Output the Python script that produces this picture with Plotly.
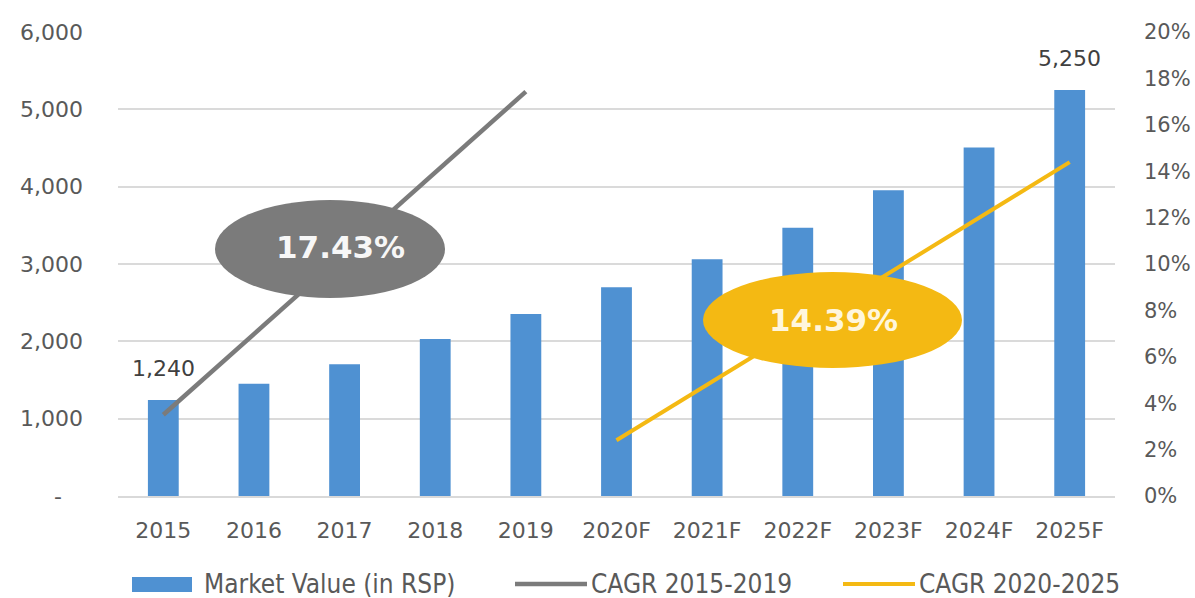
import plotly.graph_objects as go

# Market value series (in RSP) with historical and forecast years
years = ["2015", "2016", "2017", "2018", "2019", "2020F",
         "2021F", "2022F", "2023F", "2024F", "2025F"]
market_value = [1240, 1450, 1705, 2030, 2355, 2700, 3060, 3470, 3955, 4505, 5250]

# CAGR trend lines (percent, right axis)
cagr_hist_years = ["2015", "2019"]
cagr_hist = [3.5, 17.43]
cagr_fcst_years = ["2020F", "2025F"]
cagr_fcst = [2.4, 14.39]

# Axis ticks
left_ticks = [0, 1000, 2000, 3000, 4000, 5000, 6000]
left_tick_text = ["-\u00a0\u00a0\u00a0", "1,000", "2,000", "3,000", "4,000", "5,000", "6,000"]
right_ticks = [0, 2, 4, 6, 8, 10, 12, 14, 16, 18, 20]
right_tick_text = [f"{v}%" for v in right_ticks]

# Labelled bars and CAGR callouts
labelled_bars = [0, len(years) - 1]
cagr_callouts = ["17.43%", "14.39%"]
legend_names = ["Market Value (in RSP)", "CAGR 2015-2019", "CAGR 2020-2025"]

BAR = "#4f91d2"
GREY = "#7b7b7b"
GOLD = "#f4b913"
TICK = "#595959"

W, H = 1195, 598
ML, MR, MT, MB = 118, 80, 32, 102
PW, PH = W - ML - MR, H - MT - MB


def px_x(x):
    return (x - ML) / PW


def px_y(y):
    return (H - MB - y) / PH


# category positions along the x axis
pos = {name: i for i, name in enumerate(years)}
bar_x = [pos[y] for y in years]

fig = go.Figure()

fig.add_trace(go.Bar(
    x=bar_x, y=market_value, name=legend_names[0],
    width=0.34,
    marker=dict(color=BAR, line=dict(width=0)),
    showlegend=False,
))

fig.add_trace(go.Scatter(
    x=[pos[y] for y in cagr_hist_years], y=cagr_hist, yaxis="y2", mode="lines",
    name=legend_names[1], line=dict(color=GREY, width=4.5),
    showlegend=False,
))

fig.add_trace(go.Scatter(
    x=[pos[y] for y in cagr_fcst_years], y=cagr_fcst, yaxis="y2", mode="lines",
    name=legend_names[2], line=dict(color=GOLD, width=4),
    showlegend=False,
))

shapes = []
annotations = []

# value labels on first and last bar
for i in labelled_bars:
    annotations.append(dict(
        x=bar_x[i], y=market_value[i], xref="x", yref="y",
        text=f"{market_value[i]:,}", showarrow=False, yshift=32,
        font=dict(family="DejaVu Sans", size=22, color="#404040"),
    ))

# CAGR callout ellipses
callouts = [
    dict(box=(215, 200, 445, 298), text_xy=(340, 247), fill=GREY, color="#f7f7f7"),
    dict(box=(703, 272, 962, 368), text_xy=(833, 320), fill=GOLD, color="#fff6dc"),
]
for c, label in zip(callouts, cagr_callouts):
    x0, y0, x1, y1 = c["box"]
    shapes.append(dict(
        type="circle", xref="paper", yref="paper",
        x0=px_x(x0), x1=px_x(x1), y0=px_y(y1), y1=px_y(y0),
        fillcolor=c["fill"], line=dict(width=0), layer="above",
    ))
    tx, ty = c["text_xy"]
    annotations.append(dict(
        x=px_x(tx), y=px_y(ty), xref="paper", yref="paper",
        text=f"<b>{label}</b>", showarrow=False,
        xanchor="center", yanchor="middle",
        font=dict(family="DejaVu Sans", size=31, color=c["color"]),
    ))

# legend row
LEG_Y = 584
legend_font = dict(family="DejaVu Sans Condensed, Liberation Sans Narrow, DejaVu Sans",
                   size=26, color=TICK)
shapes.append(dict(
    type="rect", xref="paper", yref="paper",
    x0=px_x(132), x1=px_x(192), y0=px_y(592), y1=px_y(577),
    fillcolor=BAR, line=dict(width=0),
))
for (lx0, lx1), col, w in [((515, 587), GREY, 4.5), ((843, 915), GOLD, 4)]:
    shapes.append(dict(
        type="line", xref="paper", yref="paper",
        x0=px_x(lx0), x1=px_x(lx1), y0=px_y(LEG_Y), y1=px_y(LEG_Y),
        line=dict(color=col, width=w),
    ))
for tx, name in zip([202, 589, 917], legend_names):
    annotations.append(dict(
        x=px_x(tx), y=px_y(LEG_Y), xref="paper", yref="paper",
        text=name, showarrow=False, xanchor="left", yanchor="middle",
        font=legend_font,
    ))

fig.update_layout(
    width=W, height=H,
    margin=dict(l=ML, r=MR, t=MT, b=MB, autoexpand=False),
    paper_bgcolor="white", plot_bgcolor="white",
    showlegend=False,
    shapes=shapes,
    annotations=annotations,
    xaxis=dict(
        range=[-0.5, len(years) - 0.5],
        tickvals=bar_x, ticktext=years,
        showgrid=False, zeroline=False,
        showline=True, linecolor="#d9d9d9", linewidth=2,
        ticks="", ticklabelstandoff=14, automargin=False,
        tickfont=dict(family="DejaVu Sans", size=22, color=TICK),
    ),
    yaxis=dict(
        range=[0, 6000], tickvals=left_ticks, ticktext=left_tick_text,
        showgrid=True, gridcolor="#dadada", gridwidth=2,
        zeroline=False, showline=False, ticks="",
        ticklabelstandoff=34, automargin=False,
        tickfont=dict(family="DejaVu Sans", size=22, color=TICK),
    ),
    yaxis2=dict(
        range=[0, 20], tickvals=right_ticks, ticktext=right_tick_text,
        overlaying="y", side="right", showgrid=False, zeroline=False,
        showline=False, ticks="", ticklabelstandoff=28, automargin=False,
        tickfont=dict(family="DejaVu Sans", size=21, color=TICK),
    ),
)

fig.write_html("out.html")
